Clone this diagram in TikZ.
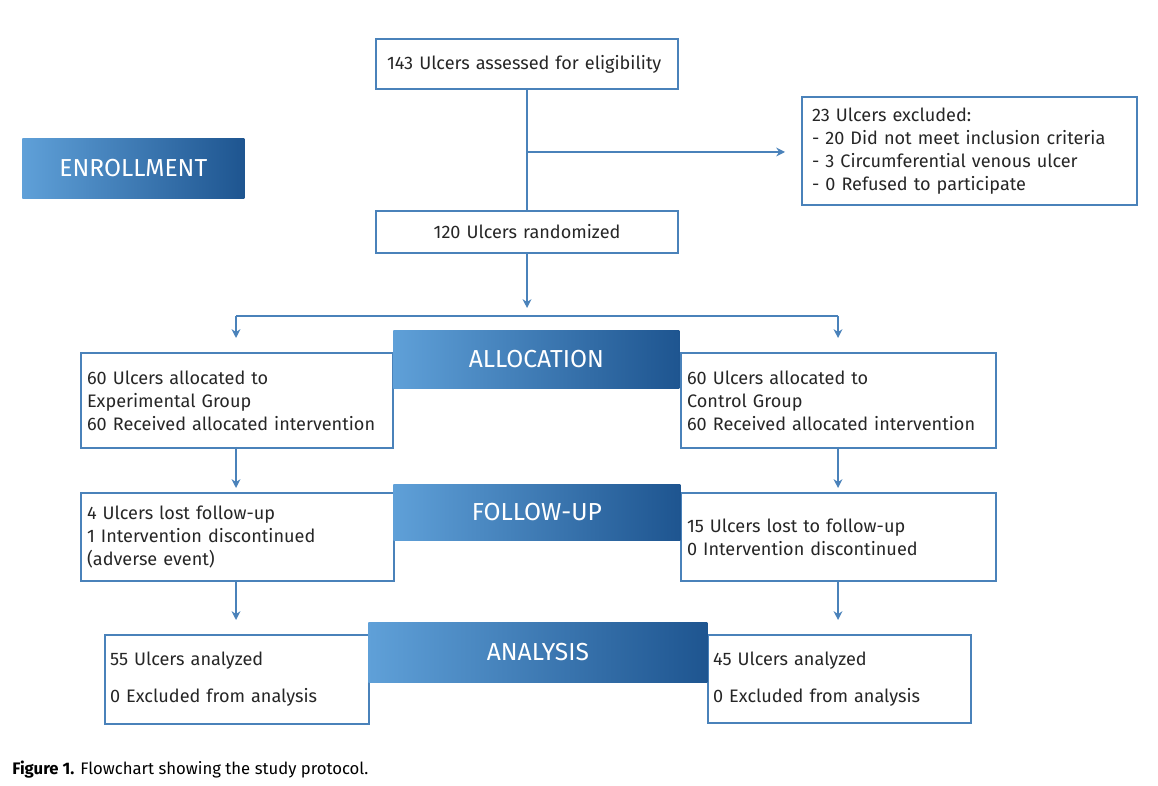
\documentclass[tikz,border=0pt]{standalone}
\usepackage{fontspec}
\setmainfont{Fira Sans}
\usetikzlibrary{arrows.meta}
\definecolor{bd}{HTML}{4A82BA}
\definecolor{gl}{HTML}{5FA0D8}
\definecolor{gd}{HTML}{1E5590}
\begin{document}
\begin{tikzpicture}[x=0.02cm,y=-0.02cm,
 box/.style={draw=bd,line width=1.2pt,anchor=north west,align=left,inner sep=0pt,font=\fontsize{10.3}{13}\selectfont\color{black!85}},
 ban/.style={anchor=north west,inner sep=0pt,left color=gl,right color=gd,draw=none,text=white,font=\fontsize{14}{16}\selectfont},
 arr/.style={draw=bd,line width=1.1pt,-{Stealth[length=5pt,width=5pt]}},
 ln/.style={draw=bd,line width=1.1pt}]
\useasboundingbox (0,0) rectangle (1158,786);
\node[box,minimum width=302*0.02cm,minimum height=50*0.02cm,text width=280*0.02cm] (top) at (375,38) {143 Ulcers assessed for eligibility};
\node[box,minimum width=335*0.02cm,minimum height=108*0.02cm,text width=315*0.02cm] (exc) at (801,96) {23 Ulcers excluded:\\- 20 Did not meet inclusion criteria\\- 3 Circumferential venous ulcer\\- 0 Refused to participate};
\node[box,minimum width=302*0.02cm,minimum height=42*0.02cm,align=center,text width=280*0.02cm] (rand) at (375,210) {120 Ulcers randomized};
\node[ban,minimum width=222*0.02cm,minimum height=60*0.02cm] (enr) at (22,138) {ENROLLMENT};
\node[box,minimum width=312*0.02cm,minimum height=95*0.02cm,text width=300*0.02cm] (al) at (80,352) {60 Ulcers allocated to\\Experimental Group\\60 Received allocated intervention};
\node[box,minimum width=315*0.02cm,minimum height=95*0.02cm,text width=303*0.02cm] (ar) at (680,352) {60 Ulcers allocated to\\Control Group\\60 Received allocated intervention};
\node[ban,minimum width=286*0.02cm,minimum height=58*0.02cm] (alloc) at (393,330) {ALLOCATION};
\node[box,minimum width=313*0.02cm,minimum height=88*0.02cm,text width=301*0.02cm] (fl) at (80,492) {4 Ulcers lost follow-up\\1 Intervention discontinued\\(adverse event)};
\node[box,minimum width=315*0.02cm,minimum height=88*0.02cm,text width=303*0.02cm] (fr) at (680,492) {15 Ulcers lost to follow-up\\0 Intervention discontinued};
\node[ban,minimum width=287*0.02cm,minimum height=56*0.02cm] (fu) at (393,484) {FOLLOW-UP};
\node[box,minimum width=264*0.02cm,minimum height=89*0.02cm,text width=254*0.02cm] (nl) at (104,634) {55 Ulcers analyzed\\[8pt]0 Excluded from analysis};
\node[box,minimum width=263*0.02cm,minimum height=88*0.02cm,text width=253*0.02cm] (nr) at (707,634) {45 Ulcers analyzed\\[8pt]0 Excluded from analysis};
\node[ban,minimum width=339*0.02cm,minimum height=60*0.02cm] (an) at (368,622) {ANALYSIS};
\node[anchor=west,inner sep=0pt,font=\fontsize{9.5}{11}\selectfont] (cap) at (12,770) {\textbf{Figure 1.} Flowchart showing the study protocol.};
\coordinate (b1) at (527,152);
\coordinate (e1) at (785,152);
\coordinate (r1) at (527,308);
\coordinate (h1) at (236,316);
\coordinate (h2) at (838,316);
\draw[ln] (top.south -| b1) -- (rand.north -| b1);
\draw[arr] (b1) -- (e1);
\draw[arr] (rand.south -| r1) -- (r1);
\draw[ln] (h1) -- (h2);
\draw[arr] (h1) -- (236,338);
\draw[arr] (h2) -- (838,338);
\draw[arr] (236,447) -- (236,488);
\draw[arr] (838,447) -- (838,488);
\draw[arr] (236,580) -- (236,620);
\draw[arr] (838,580) -- (838,620);
\end{tikzpicture}
\end{document}
